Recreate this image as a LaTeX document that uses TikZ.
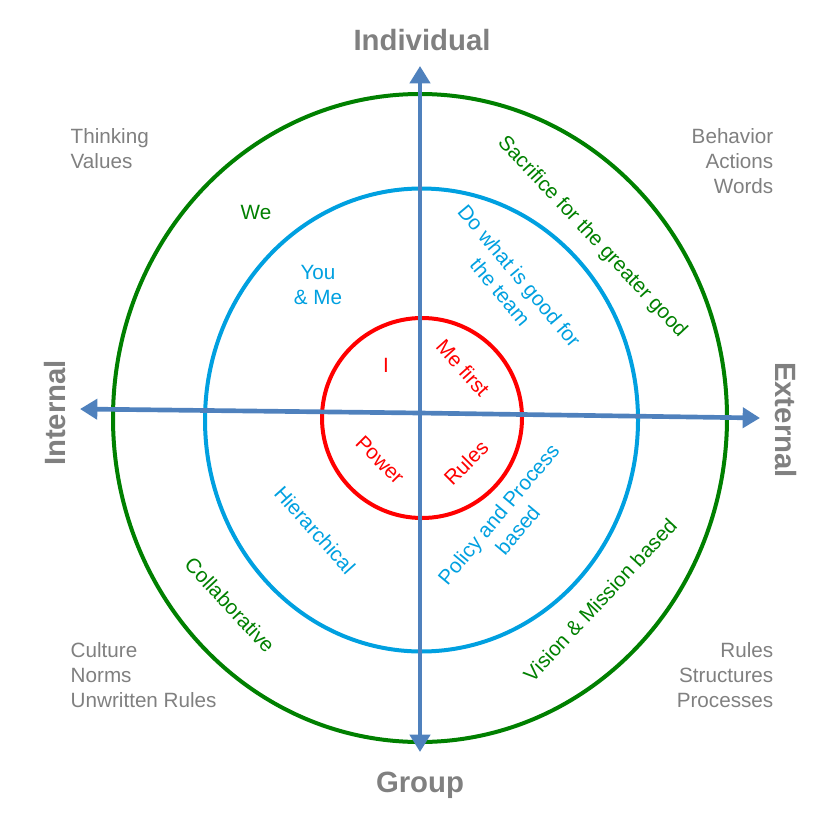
\documentclass[tikz,border=0pt]{standalone}
\usepackage{fontspec}
\setmainfont{Liberation Sans}
\usetikzlibrary{arrows.meta}
\definecolor{ringgreen}{RGB}{0,128,0}
\definecolor{ringblue}{RGB}{0,160,224}
\definecolor{ringred}{RGB}{255,0,0}
\definecolor{axisblue}{RGB}{79,129,189}
\definecolor{labelgray}{RGB}{128,128,128}
\tikzset{
    ring/.style={line width=3pt},
    axisline/.style={axisblue, line width=3.5pt, -{Triangle[length=13pt,width=15pt]}},
    axislabel/.style={labelgray, font=\fontsize{22}{26}\selectfont\bfseries},
    corner/.style={labelgray, font=\fontsize{15.5}{18.75}\selectfont},
    tag/.style={font=\fontsize{15.5}{18.75}\selectfont, align=center},
}
\begin{document}
\begin{tikzpicture}[x=0.75pt, y=-0.75pt]
    \useasboundingbox (0,0) rectangle (838,831);
    % rings
    \draw[ring, ringgreen] (420,418) ellipse [x radius=307, y radius=324];
    \draw[ring, ringblue] (421.5,420) ellipse [x radius=216.5, y radius=231.5];
    \draw[ring, ringred] (422,418) circle [radius=100];
    % axes
    \coordinate (mid) at (420,413);
    \coordinate (top) at (420,66);
    \coordinate (bot) at (420,752);
    \coordinate (lft) at (80,409);
    \coordinate (rgt) at (760,418);
    \draw[axisline] (mid) -- (top);
    \draw[axisline] (mid) -- (bot);
    \draw[axisline] (mid) -- (lft);
    \draw[axisline] (mid) -- (rgt);
    % axis labels
    \node[axislabel] (individual) at (422,40) {Individual};
    \node[axislabel] (group) at (420,785) {Group};
    \node[axislabel, rotate=90] (internal) at (55,413) {Internal};
    \node[axislabel, rotate=-90] (external) at (786,420) {External};
    % corners
    \node[corner, align=left, anchor=north west] (nw) at (66,124) {Thinking\\Values};
    \node[corner, align=right, anchor=north east] (ne) at (778,124) {Behavior\\Actions\\Words};
    \node[corner, align=left, anchor=north west] (sw) at (66,638) {Culture\\Norms\\Unwritten Rules};
    \node[corner, align=right, anchor=north east] (se) at (778,638) {Rules\\Structures\\Processes};
    % outer ring texts
    \node[tag, ringgreen] (we) at (256,212) {We};
    \node[tag, ringgreen, rotate=-47] (sacrifice) at (592,237) {Sacrifice for the greater good};
    \node[tag, ringgreen, rotate=-47] (collab) at (230,605) {Collaborative};
    \node[tag, ringgreen, rotate=47] (vision) at (600,600) {Vision \& Mission based};
    % middle ring texts
    \node[tag, ringblue] (youme) at (318,285) {You\\\& Me};
    \node[tag, ringblue, rotate=-50] (team) at (510,284) {Do what is good for\\the team};
    \node[tag, ringblue, rotate=-48] (hier) at (315,530) {Hierarchical};
    \node[tag, ringblue, rotate=50] (policy) at (508,522) {Policy and Process\\based};
    % inner ring texts
    \node[tag, ringred] (i) at (386,365) {I};
    \node[tag, ringred, rotate=-48] (mefirst) at (463,368) {Me first};
    \node[tag, ringred, rotate=-45] (power) at (380,460) {Power};
    \node[tag, ringred, rotate=45] (rules) at (466,463) {Rules};
\end{tikzpicture}
\end{document}
